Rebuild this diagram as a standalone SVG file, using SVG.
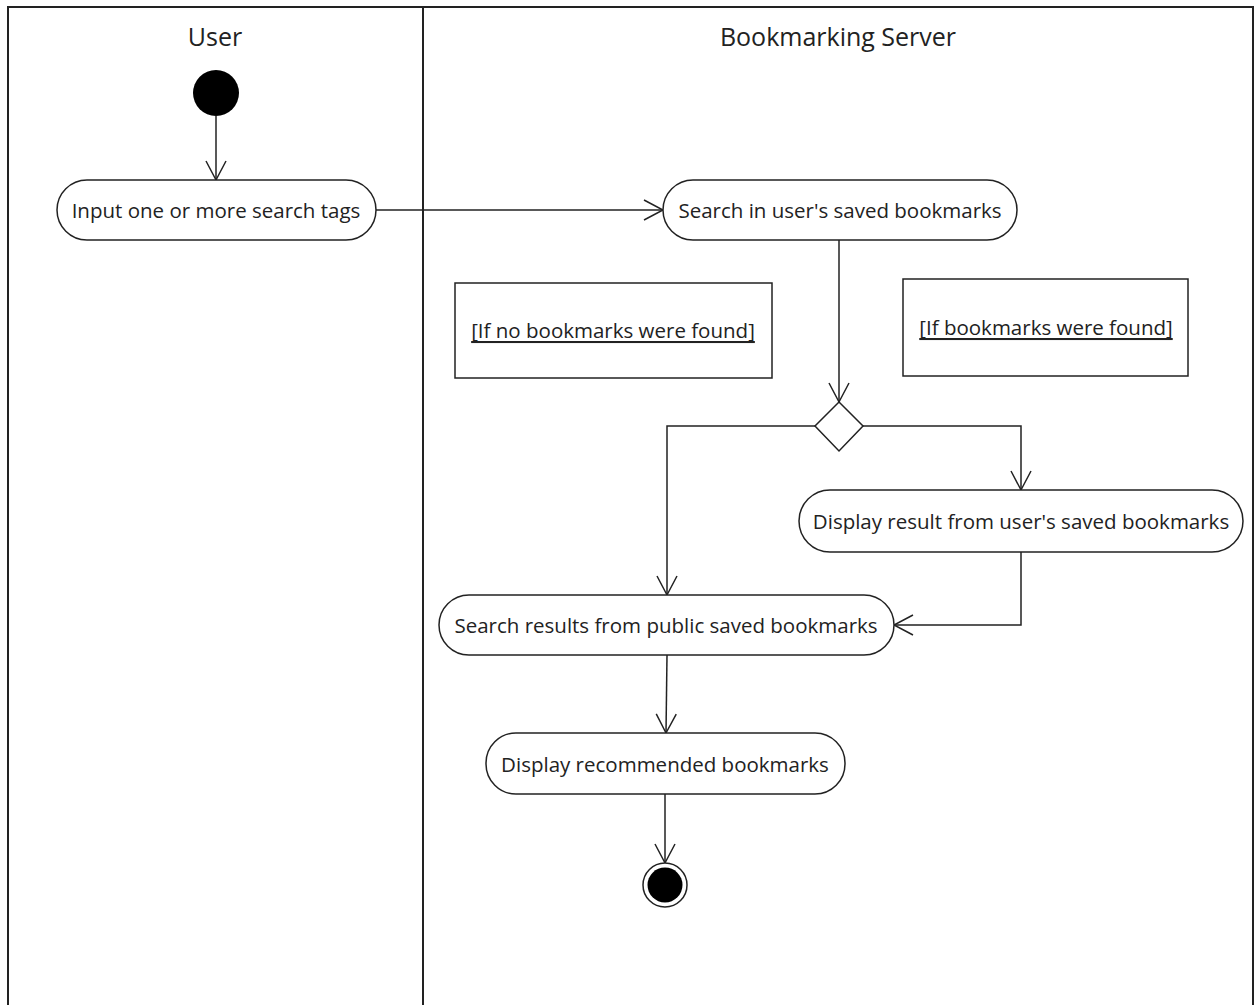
<svg xmlns="http://www.w3.org/2000/svg" width="1257" height="1005" viewBox="0 0 1257 1005">
<style>
.lane{fill:none;stroke:#222;stroke-width:2}
.title{font-family:"Open Sans","Liberation Sans",sans-serif;font-size:25px;fill:#222;text-anchor:middle}
.act{fill:#fff;stroke:#222;stroke-width:1.5}
.lbl{font-family:"Open Sans","Liberation Sans",sans-serif;font-size:20.5px;fill:#222;text-anchor:middle;dominant-baseline:central}
.guard{fill:#fff;stroke:#222;stroke-width:1.5}
.gtxt{font-family:"Open Sans","Liberation Sans",sans-serif;font-size:20.5px;fill:#222;text-anchor:middle;dominant-baseline:central;text-decoration:underline}
.edge{fill:none;stroke:#222;stroke-width:1.5;marker-end:url(#arr)}
</style>
<defs>
<marker id="arr" viewBox="0 0 22 22" refX="20" refY="11" markerWidth="22" markerHeight="22" markerUnits="userSpaceOnUse" orient="auto">
<path d="M1,1 L20,11 L1,21" fill="none" stroke="#222" stroke-width="1.5"/>
</marker>
</defs>
<rect width="1257" height="1005" fill="#fff"/>
<g id="lanes">
<path class="lane" d="M8,1010 V7 H1253 V1010"/>
<line class="lane" x1="423" y1="7" x2="423" y2="1010"/>
<text class="title" x="215" y="46">User</text>
<text class="title" x="838" y="46">Bookmarking Server</text>
</g>
<g id="connectors">
<line class="edge" x1="216" y1="116" x2="216" y2="180"/>
<line class="edge" x1="376" y1="210" x2="663" y2="210"/>
<line class="edge" x1="839" y1="240" x2="839" y2="402"/>
<polyline class="edge" points="815,426 667,426 667,595"/>
<polyline class="edge" points="863,426 1021,426 1021,490"/>
<polyline class="edge" points="1021,552 1021,625 894,625"/>
<line class="edge" x1="667" y1="655" x2="666" y2="733"/>
<line class="edge" x1="665" y1="794" x2="665" y2="863"/>
</g>
<g id="start"><circle cx="216" cy="93" r="23" fill="#000"/></g>
<g id="input"><rect class="act" x="57" y="180" width="319" height="60" rx="30"/><text class="lbl" x="216" y="210">Input one or more search tags</text></g>
<g id="searchUser"><rect class="act" x="663" y="180" width="354" height="60" rx="30"/><text class="lbl" x="840" y="210">Search in user's saved bookmarks</text></g>
<g id="guardNo"><rect class="guard" x="455" y="283" width="317" height="95"/><text class="gtxt" x="613" y="330">[If no bookmarks were found]</text></g>
<g id="guardYes"><rect class="guard" x="903" y="279" width="285" height="97"/><text class="gtxt" x="1046" y="327">[If bookmarks were found]</text></g>
<g id="decision"><polygon points="839,402 863,426 839,451 815,426" fill="#fff" stroke="#222" stroke-width="1.5"/></g>
<g id="displayUser"><rect class="act" x="799" y="490" width="444" height="62" rx="31"/><text class="lbl" x="1021" y="521">Display result from user's saved bookmarks</text></g>
<g id="searchPublic"><rect class="act" x="439" y="595" width="455" height="60" rx="30"/><text class="lbl" x="666" y="625">Search results from public saved bookmarks</text></g>
<g id="displayRec"><rect class="act" x="486" y="733" width="359" height="61" rx="30"/><text class="lbl" x="665" y="764">Display recommended bookmarks</text></g>
<g id="end"><circle cx="665" cy="885" r="22" fill="#fff" stroke="#222" stroke-width="1.5"/><circle cx="665" cy="885" r="17.5" fill="#000"/></g>
</svg>
